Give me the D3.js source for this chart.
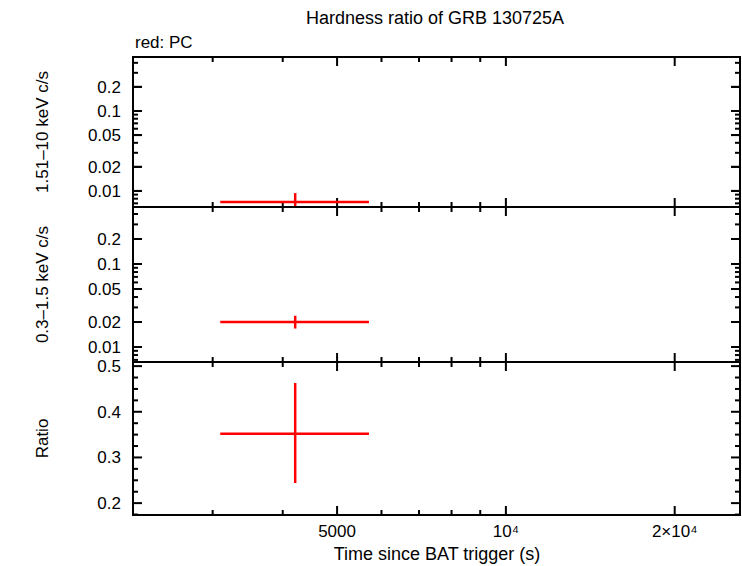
<!DOCTYPE html>
<html><head><meta charset="utf-8">
<script src="https://cdn.jsdelivr.net/npm/d3@7"></script>
<style>body{margin:0;background:#fff}text{font-family:"Liberation Sans",Arial,sans-serif}</style>
</head><body><svg id="c" width="742" height="566"></svg>
<script>
const xDomain = [2163, 26150];
const points = [{t: 4210, tlo: 3095, thi: 5700}];
const hard = [{v: 0.0073, lo: 0.0060, hi: 0.0094}];
const soft = [{v: 0.0200, lo: 0.0167, hi: 0.0238}];
const ratio = [{v: 0.352, lo: 0.244, hi: 0.463}];
const logTicks = [0.01, 0.02, 0.05, 0.1, 0.2];
const ratioTicks = [0.2, 0.3, 0.4, 0.5];
const xTicks = [5000, 10000, 20000];
const xTickLabels = ["5000", "10⁴", "2×10⁴"];

const svg = d3.select("#c");
const L = 133, R = 740;
const x = d3.scaleLog().domain(xDomain).range([L, R]);

const panels = [
  {top: 57, bot: 207, y: d3.scaleLog().domain([0.0063, 0.473]).range([207, 57]), data: hard, ticks: logTicks, label: "1.51–10 keV c/s"},
  {top: 207, bot: 362, y: d3.scaleLog().domain([0.0066, 0.486]).range([362, 207]), data: soft, ticks: logTicks, label: "0.3–1.5 keV c/s"},
  {top: 362, bot: 515, y: d3.scaleLinear().domain([0.174, 0.509]).range([515, 362]), data: ratio, ticks: ratioTicks, label: "Ratio"}
];

// minor ticks in log space
function logMinor(dom) {
  const out = [];
  for (let e = Math.floor(Math.log10(dom[0])); e <= Math.ceil(Math.log10(dom[1])); e++)
    for (let m = 1; m < 10; m++) { const v = m * Math.pow(10, e); if (v >= dom[0] && v <= dom[1]) out.push(v); }
  return out;
}
const xMinor = logMinor(xDomain);

panels.forEach((p, i) => {
  const g = svg.append("g");
  const isLog = i < 2;
  xMinor.forEach(v => {
    const major = xTicks.includes(v);
    const len = major ? 9 : 5;
    [[p.bot, -len], [p.top, len]].forEach(([y0, d]) => g.append("line")
      .attr("x1", x(v)).attr("x2", x(v)).attr("y1", y0).attr("y2", y0 + d)
      .attr("stroke", "#000").attr("stroke-width", 2));
  });
  const yMaj = p.ticks;
  const yMin = isLog ? logMinor(p.y.domain()) : d3.range(0.175, 0.51, 0.025).filter(v => Math.abs(v*10 - Math.round(v*10)) > 0.01);
  yMin.concat(yMaj).forEach(v => {
    const major = yMaj.includes(v);
    const len = major ? 9 : 5;
    [[L, len], [R, -len]].forEach(([x0, d]) => g.append("line")
      .attr("x1", x0).attr("x2", x0 + d).attr("y1", p.y(v)).attr("y2", p.y(v))
      .attr("stroke", "#000").attr("stroke-width", 2));
  });
  yMaj.forEach(v => g.append("text").attr("x", L - 12).attr("y", p.y(v) + 6)
    .attr("text-anchor", "end").attr("font-size", 17).text(v));
  g.append("rect").attr("x", L).attr("y", p.top).attr("width", R - L).attr("height", p.bot - p.top)
    .attr("fill", "none").attr("stroke", "#000").attr("stroke-width", 2);
  g.append("text").attr("transform", `translate(48,${(p.top + p.bot) / 2}) rotate(-90)`)
    .attr("text-anchor", "middle").attr("font-size", 17).text(p.label);
  const clip = "clip" + i;
  svg.append("clipPath").attr("id", clip).append("rect")
    .attr("x", L).attr("y", p.top).attr("width", R - L).attr("height", p.bot - p.top);
  const dg = svg.append("g").attr("clip-path", `url(#${clip})`);
  p.data.forEach((d, j) => {
    const pt = points[j];
    dg.append("line").attr("x1", x(pt.tlo)).attr("x2", x(pt.thi)).attr("y1", p.y(d.v)).attr("y2", p.y(d.v))
      .attr("stroke", "red").attr("stroke-width", 2.5);
    dg.append("line").attr("x1", x(pt.t)).attr("x2", x(pt.t)).attr("y1", p.y(d.lo)).attr("y2", p.y(d.hi))
      .attr("stroke", "red").attr("stroke-width", 2.5);
  });
});

xTicks.forEach((v, i) => svg.append("text").attr("x", x(v)).attr("y", 537)
  .attr("text-anchor", "middle").attr("font-size", 17).text(xTickLabels[i]));
svg.append("text").attr("x", 437).attr("y", 560).attr("text-anchor", "middle").attr("font-size", 18)
  .text("Time since BAT trigger (s)");
svg.append("text").attr("x", 435).attr("y", 24).attr("text-anchor", "middle").attr("font-size", 18)
  .text("Hardness ratio of GRB 130725A");
svg.append("text").attr("x", 135).attr("y", 48).attr("font-size", 17).text("red: PC");
</script></body></html>
